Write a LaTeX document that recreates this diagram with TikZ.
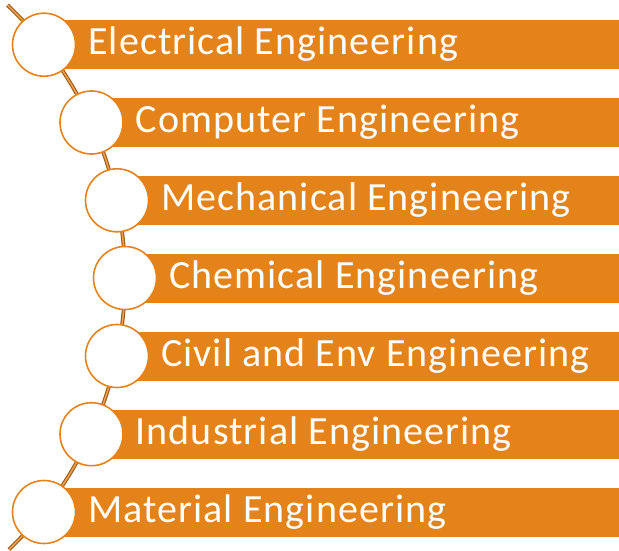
\documentclass[tikz,border=0pt]{standalone}
\usepackage{fontspec}
\setmainfont{Carlito}
\newfontfamily\barfont[LetterSpace=2.7]{Carlito}
\definecolor{barorange}{HTML}{E4831A}
\definecolor{linebrown}{HTML}{A05A10}
\definecolor{linefill}{HTML}{E9A050}
\begin{document}
\begin{tikzpicture}[x=1pt,y=-1pt,
  bar/.style={fill=barorange, draw=none},
  dot/.style={circle, draw=barorange, line width=1.6pt, fill=white, minimum size=63pt, inner sep=0pt},
  label/.style={anchor=base west, text=white, font=\barfont\fontsize{40}{44}\selectfont, inner sep=0pt},
  spine/.style={draw=linebrown, line width=1.1pt, double=linefill, double distance=1.6pt}]
\useasboundingbox (0,0) rectangle (619,551);
% spine arc
\draw[spine] plot[domain=46.6:-46.3, samples=80] ({-250.6+375.6*cos(\x)}, {278-375.6*sin(\x)});
% items
\foreach \i/\cx/\cy/\t in {1/44/44.7/Electrical Engineering,
                           2/91.5/122.5/Computer Engineering,
                           3/117/200.3/Mechanical Engineering,
                           4/125/278/Chemical Engineering,
                           5/117/356/Civil and Env Engineering,
                           6/91.5/434.2/Industrial Engineering,
                           7/44/512/Material Engineering}{
  \fill[bar] (\cx,\cy-24.5) rectangle (619,\cy+24.5);
  \node[dot] (c\i) at (\cx,\cy) {};
  \node[label] (b\i) at (\cx+44,\cy+10) {\t};
}
\end{tikzpicture}
\end{document}
